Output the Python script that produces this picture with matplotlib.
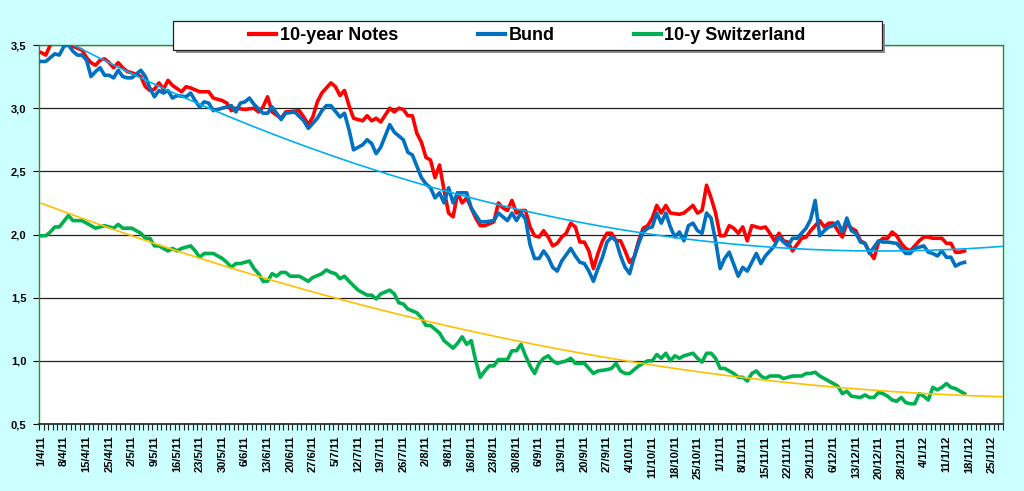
"""
Bond yields chart: 10-year Notes, Bund and 10-y Switzerland, Apr 2011 - Jan 2012,
with 2nd order polynomial trend lines for Bund and Switzerland.
"""

import numpy as np
import matplotlib.pyplot as plt
from matplotlib.patches import Rectangle
from matplotlib.lines import Line2D
from matplotlib.ticker import FuncFormatter

# --- data (business-day index -> yield in %) ---
tick_labels = ['1/4/11', '8/4/11', '15/4/11', '25/4/11', '2/5/11', '9/5/11', '16/5/11',
               '23/5/11', '30/5/11', '6/6/11', '13/6/11', '20/6/11', '27/6/11', '5/7/11',
               '12/7/11', '19/7/11', '26/7/11', '2/8/11', '9/8/11', '16/8/11', '23/8/11',
               '30/8/11', '6/9/11', '13/9/11', '20/9/11', '27/9/11', '4/10/11', '11/10/11',
               '18/10/11', '25/10/11', '1/11/11', '8/11/11', '15/11/11', '22/11/11',
               '29/11/11', '6/12/11', '13/12/11', '20/12/11', '28/12/11', '4/1/12',
               '11/1/12', '18/1/12', '25/1/12']
n_days = 213

notes_idx = [0, 1, 2, 3, 5, 6, 7, 9, 10, 11, 12, 13, 14, 15, 16, 17, 18, 19, 20, 22,
             23, 24, 25, 26, 27, 28, 29, 31, 32, 33, 35, 37, 38, 40, 41, 42, 43, 45, 47, 48,
             49, 50, 51, 53, 54, 57, 58, 59, 60, 61, 62, 63, 64, 65, 66, 67, 68, 69, 71, 72,
             73, 74, 75, 77, 78, 79, 80, 81, 82, 83, 84, 85, 86, 87, 88, 89, 90, 91, 92, 93,
             94, 95, 96, 97, 98, 100, 101, 102, 103, 104, 105, 106, 107, 108, 109, 110, 111,
             112, 113, 114, 115, 116, 117, 118, 119, 120, 121, 122, 123, 124, 125, 126, 127,
             128, 129, 130, 131, 132, 133, 134, 135, 136, 137, 138, 139, 141, 142, 143, 144,
             145, 146, 147, 148, 149, 150, 151, 152, 153, 154, 155, 156, 157, 158, 159, 160,
             161, 162, 163, 164, 165, 166, 168, 169, 170, 172, 173, 174, 175, 176, 177, 178,
             179, 180, 181, 182, 183, 184, 185, 186, 187, 188, 189, 190, 191, 192, 194, 195,
             196, 197, 198, 199, 200, 201, 202, 203, 204]
notes_val = [3.44, 3.42, 3.50, 3.53, 3.54, 3.53, 3.49, 3.46, 3.40, 3.36, 3.34, 3.38, 3.39,
             3.36, 3.32, 3.36, 3.32, 3.29, 3.28, 3.25, 3.17, 3.14, 3.15, 3.20, 3.15, 3.22,
             3.18, 3.13, 3.17, 3.16, 3.13, 3.13, 3.08, 3.06, 3.04, 2.98, 3.00, 2.99, 3.00,
             2.97, 3.01, 3.09, 2.97, 2.92, 2.97, 2.98, 2.93, 2.87, 2.93, 3.05, 3.12, 3.16,
             3.20, 3.17, 3.10, 3.14, 3.02, 2.92, 2.90, 2.94, 2.90, 2.92, 2.89, 3.00, 2.97,
             3.00, 2.99, 2.94, 2.94, 2.80, 2.73, 2.61, 2.59, 2.45, 2.55, 2.35, 2.17, 2.14,
             2.33, 2.25, 2.29, 2.21, 2.13, 2.07, 2.07, 2.10, 2.25, 2.21, 2.19, 2.27, 2.17,
             2.19, 2.19, 2.06, 1.99, 1.98, 2.03, 1.98, 1.91, 1.93, 1.98, 2.01, 2.09, 2.06,
             1.94, 1.94, 1.87, 1.73, 1.85, 1.95, 2.01, 2.01, 1.95, 1.95, 1.87, 1.78, 1.82,
             1.95, 2.05, 2.07, 2.13, 2.23, 2.17, 2.23, 2.17, 2.16, 2.17, 2.20, 2.23, 2.17,
             2.19, 2.39, 2.29, 2.17, 1.99, 1.99, 2.07, 2.05, 2.01, 2.06, 1.95, 2.07, 2.06,
             2.05, 2.06, 2.01, 1.95, 2.01, 1.95, 1.94, 1.87, 1.97, 1.98, 2.03, 2.11, 2.06,
             2.09, 2.09, 2.03, 1.98, 2.09, 2.05, 2.03, 1.95, 1.93, 1.86, 1.81, 1.94, 1.97,
             1.97, 2.02, 1.99, 1.93, 1.89, 1.87, 1.95, 1.98, 1.98, 1.97, 1.97, 1.97, 1.93,
             1.93, 1.86, 1.86, 1.87]

bund_idx = [0, 1, 2, 3, 4, 5, 6, 7, 8, 9, 10, 11, 12, 13, 14, 15, 16, 17, 18, 19, 20, 22,
            23, 24, 25, 26, 27, 28, 29, 30, 32, 33, 34, 35, 36, 37, 38, 40, 42, 43, 44, 45,
            46, 47, 49, 50, 51, 53, 54, 56, 58, 59, 61, 62, 63, 64, 66, 67, 68, 69, 71, 72,
            73, 74, 75, 77, 78, 80, 81, 82, 84, 85, 86, 87, 88, 89, 90, 91, 92, 93, 94, 95,
            97, 98, 100, 101, 102, 103, 104, 105, 106, 107, 108, 109, 110, 111, 112, 113,
            114, 115, 117, 118, 119, 120, 121, 122, 123, 124, 125, 126, 127, 128, 129, 130,
            131, 132, 133, 134, 135, 136, 137, 138, 139, 140, 141, 142, 143, 144, 145, 146,
            147, 148, 149, 150, 151, 152, 154, 155, 156, 158, 159, 160, 161, 162, 163, 164,
            165, 166, 167, 168, 169, 170, 171, 172, 173, 174, 175, 176, 177, 178, 179, 180,
            181, 182, 183, 184, 185, 186, 187, 189, 190, 191, 192, 193, 194, 195, 196, 197,
            198, 199, 200, 201, 202, 203, 204]
bund_val = [3.37, 3.37, 3.40, 3.43, 3.42, 3.49, 3.50, 3.45, 3.42, 3.42, 3.38, 3.25, 3.29,
            3.32, 3.26, 3.26, 3.24, 3.30, 3.25, 3.24, 3.24, 3.30, 3.25, 3.16, 3.09, 3.14,
            3.12, 3.14, 3.08, 3.10, 3.09, 3.12, 3.06, 3.01, 3.05, 3.04, 2.98, 3.00, 3.02,
            2.97, 3.04, 3.05, 3.08, 3.03, 2.96, 2.96, 3.01, 2.91, 2.96, 2.97, 2.90, 2.84,
            2.92, 2.98, 3.02, 3.02, 2.93, 2.96, 2.83, 2.67, 2.71, 2.75, 2.72, 2.64, 2.69,
            2.87, 2.81, 2.75, 2.65, 2.63, 2.45, 2.40, 2.37, 2.29, 2.33, 2.25, 2.37, 2.25,
            2.33, 2.33, 2.33, 2.21, 2.10, 2.10, 2.11, 2.17, 2.14, 2.11, 2.17, 2.11, 2.17,
            2.12, 1.92, 1.81, 1.81, 1.87, 1.82, 1.74, 1.71, 1.79, 1.89, 1.83, 1.78, 1.77,
            1.71, 1.63, 1.73, 1.82, 1.94, 1.98, 1.95, 1.83, 1.74, 1.69, 1.82, 1.93, 2.02,
            2.05, 2.06, 2.17, 2.09, 2.17, 2.06, 1.98, 2.02, 1.95, 2.07, 2.09, 2.03, 2.01,
            2.17, 2.13, 1.95, 1.73, 1.81, 1.86, 1.67, 1.74, 1.71, 1.85, 1.77, 1.83, 1.87,
            1.91, 1.98, 1.94, 1.91, 1.97, 1.97, 2.01, 2.05, 2.12, 2.27, 1.99, 2.03, 2.06,
            2.07, 2.10, 2.02, 2.13, 2.03, 2.01, 1.94, 1.93, 1.85, 1.90, 1.95, 1.94, 1.94,
            1.93, 1.89, 1.85, 1.85, 1.89, 1.90, 1.91, 1.86, 1.85, 1.83, 1.87, 1.82, 1.82,
            1.75, 1.77, 1.78]

swiss_idx = [0, 1, 2, 3, 4, 6, 7, 9, 10, 12, 13, 14, 16, 17, 18, 20, 21, 22, 23, 24, 25,
             26, 28, 29, 30, 31, 33, 34, 35, 36, 38, 39, 40, 41, 42, 43, 44, 46, 47, 48, 49,
             50, 51, 52, 53, 54, 55, 57, 58, 59, 60, 62, 63, 64, 65, 66, 67, 68, 70, 71, 72,
             73, 74, 75, 77, 78, 79, 80, 81, 83, 84, 85, 86, 87, 88, 89, 91, 92, 93, 94, 95,
             96, 97, 98, 99, 100, 101, 103, 104, 105, 106, 107, 108, 109, 110, 111, 112, 113,
             114, 116, 117, 118, 120, 121, 122, 123, 125, 126, 127, 128, 129, 130, 132, 133,
             134, 135, 136, 137, 138, 139, 140, 141, 142, 144, 145, 146, 147, 148, 149, 150,
             151, 153, 154, 155, 156, 157, 158, 159, 160, 161, 162, 163, 164, 165, 166, 168,
             169, 170, 171, 172, 173, 174, 176, 177, 178, 179, 181, 182, 183, 184, 185, 186,
             187, 188, 189, 190, 191, 192, 193, 194, 195, 196, 197, 198, 199, 200, 201, 202,
             203, 204]
swiss_val = [1.99, 1.99, 2.02, 2.06, 2.06, 2.15, 2.11, 2.11, 2.09, 2.05, 2.06, 2.07, 2.05,
             2.08, 2.05, 2.05, 2.03, 2.01, 1.97, 1.97, 1.91, 1.91, 1.87, 1.89, 1.87, 1.89,
             1.91, 1.87, 1.82, 1.85, 1.85, 1.83, 1.81, 1.78, 1.74, 1.77, 1.77, 1.79, 1.73,
             1.69, 1.63, 1.63, 1.69, 1.67, 1.70, 1.70, 1.67, 1.67, 1.65, 1.63, 1.66, 1.69,
             1.72, 1.70, 1.69, 1.65, 1.67, 1.63, 1.56, 1.54, 1.52, 1.52, 1.49, 1.53, 1.56,
             1.53, 1.46, 1.45, 1.41, 1.38, 1.34, 1.28, 1.28, 1.25, 1.22, 1.16, 1.10, 1.14,
             1.19, 1.13, 1.16, 1.00, 0.87, 0.92, 0.96, 0.96, 1.01, 1.01, 1.08, 1.08, 1.13,
             1.04, 0.96, 0.90, 0.98, 1.02, 1.04, 1.00, 0.98, 1.00, 1.02, 0.98, 0.98, 0.94,
             0.90, 0.92, 0.93, 0.94, 0.98, 0.92, 0.90, 0.90, 0.96, 0.98, 1.00, 1.00, 1.05,
             1.02, 1.06, 1.00, 1.04, 1.02, 1.04, 1.06, 1.02, 0.99, 1.06, 1.06, 1.02, 0.94,
             0.94, 0.90, 0.87, 0.87, 0.84, 0.90, 0.92, 0.88, 0.86, 0.88, 0.88, 0.88, 0.86,
             0.87, 0.88, 0.88, 0.90, 0.90, 0.91, 0.88, 0.86, 0.84, 0.80, 0.74, 0.76, 0.72,
             0.71, 0.73, 0.71, 0.71, 0.75, 0.74, 0.72, 0.69, 0.68, 0.71, 0.67, 0.66, 0.66,
             0.74, 0.72, 0.69, 0.79, 0.77, 0.79, 0.82, 0.79, 0.78, 0.76, 0.74]

series_names = ['10-year Notes', 'Bund', '10-y Switzerland']

# --- style ---
BG = '#CCFFFF'
FRAME_GREEN = '#2E8B2E'
C_NOTES = '#FF0000'
C_BUND = '#0070C0'
C_SWISS = '#00B050'
C_BUND_TREND = '#00B0F0'
C_SWISS_TREND = '#FFC000'

plt.rcParams['font.family'] = ['Liberation Sans', 'DejaVu Sans']
plt.rcParams['font.weight'] = 'bold'

fig = plt.figure(figsize=(10.24, 4.91), dpi=100, facecolor=BG)
ax = fig.add_axes([39 / 1024, 1 - 424 / 491, 964 / 1024, 379 / 491])
ax.set_facecolor('white')

# series
ax.plot(notes_idx, notes_val, color=C_NOTES, lw=2.6, solid_joinstyle='round', zorder=3)
ax.plot(bund_idx, bund_val, color=C_BUND, lw=2.6, solid_joinstyle='round', zorder=4)
ax.plot(swiss_idx, swiss_val, color=C_SWISS, lw=2.6, solid_joinstyle='round', zorder=3)

# polynomial (order 2) trend lines, extended to the end of the axis
xt = np.linspace(0, n_days - 0.5, 300)
bund_fit = np.polyfit(bund_idx, bund_val, 2)
swiss_fit = np.polyfit(swiss_idx, swiss_val, 2)
ax.plot(xt, np.polyval(bund_fit, xt), color=C_BUND_TREND, lw=1.2, zorder=5)
ax.plot(xt, np.polyval(swiss_fit, xt), color=C_SWISS_TREND, lw=1.2, zorder=5)

# axes
ax.set_xlim(-0.5, n_days - 0.5)
ax.set_ylim(0.5, 3.5)
ax.set_yticks(np.arange(0.5, 3.51, 0.5))
ax.yaxis.set_major_formatter(FuncFormatter(lambda v, p: f'{v:.1f}'.replace('.', ',')))
ax.grid(axis='y', color='#202020', lw=0.9)
ax.set_axisbelow(True)

ax.set_xticks(np.arange(0, 5 * len(tick_labels), 5))
ax.set_xticklabels(tick_labels, rotation=90, fontsize=8, fontweight='bold')
ax.set_xticks(np.arange(-0.5, n_days, 1), minor=True)
ax.tick_params(axis='x', which='major', length=0, pad=8.5)
ax.tick_params(axis='x', which='minor', length=4, width=0.8, color='#202020')
ax.tick_params(axis='y', length=4, width=0.8, pad=5, labelsize=8)
for lab in ax.get_yticklabels():
    lab.set_fontweight('bold')

for side in ['left', 'right', 'top']:
    ax.spines[side].set_color(FRAME_GREEN)
    ax.spines[side].set_linewidth(1.0)
ax.spines['bottom'].set_color('#202020')
ax.spines['bottom'].set_linewidth(1.2)

# legend box with shadow
bx, by, bw, bh = 173 / 1024, 1 - 50 / 491, 709 / 1024, 29 / 491
fig.patches.append(Rectangle((bx + 3 / 1024, by - 3 / 491), bw, bh, transform=fig.transFigure,
                             facecolor='#8C8C8C', edgecolor='none', zorder=2))
fig.patches.append(Rectangle((bx, by), bw, bh, transform=fig.transFigure,
                             facecolor='white', edgecolor='#202020', lw=0.9, zorder=3))
handles = [Line2D([], [], color=c, lw=3) for c in (C_NOTES, C_BUND, C_SWISS)]
leg = fig.legend(handles, series_names, loc='center', bbox_to_anchor=(bx + bw / 2, by + bh / 2),
                 ncol=3, frameon=False, prop={'weight': 'bold', 'size': 13},
                 handlelength=1.5, handletextpad=0.2, columnspacing=4.4)
leg.set_zorder(6)

fig.savefig('out.png', dpi=100, facecolor=BG)
